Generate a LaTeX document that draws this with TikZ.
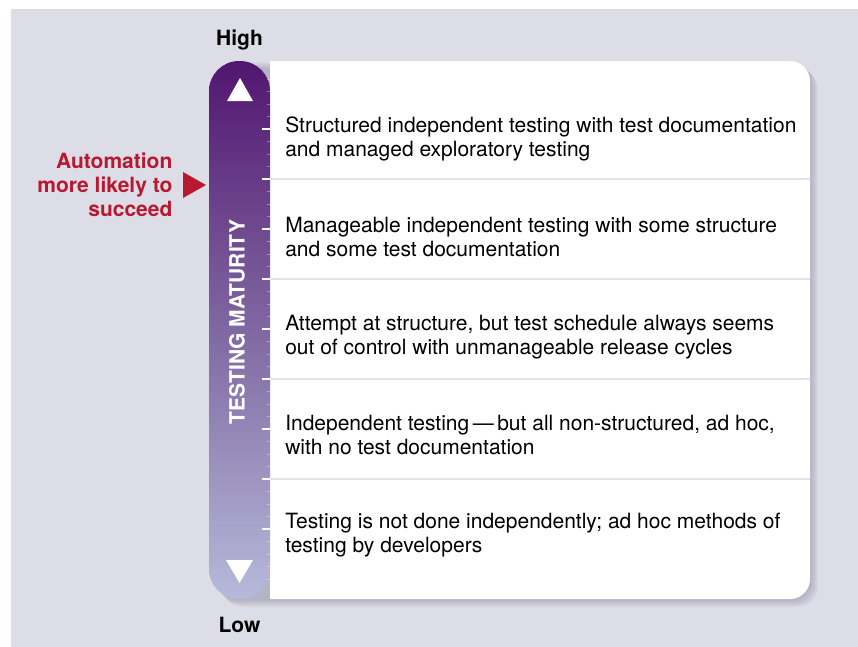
\documentclass[tikz,border=0pt]{standalone}
\usepackage{fontspec}
\setmainfont{TeX Gyre Heros}
\usepackage{xcolor}
\usetikzlibrary{positioning,calc}

\definecolor{panelbg}{RGB}{221,221,231}
\definecolor{shadowcol}{RGB}{120,120,150}
\definecolor{sepgrey}{RGB}{226,226,236}
\definecolor{bartop}{RGB}{82,22,112}
\definecolor{barmid}{RGB}{128,104,162}
\definecolor{barbot}{RGB}{182,186,218}
\definecolor{accent}{RGB}{184,24,48}

\begin{document}
\begin{tikzpicture}[x=0.75pt, y=-0.75pt, font=\fontsize{15.75}{18}\selectfont,
  level/.style={anchor=west, align=left, inner sep=0pt},
  boldtext/.style={inner sep=0pt, font=\fontsize{15.75}{18}\selectfont\bfseries},
  bar/.style={minimum width=45.75pt, minimum height=403.5pt, inner sep=0pt, rounded corners=22.5pt,
    top color=bartop, bottom color=barbot, middle color=barmid},
  tick/.style={white, line width=0.9pt},
  minortick/.style={white, opacity=0.35, line width=0.6pt},
  sep/.style={sepgrey, line width=1pt}]

\useasboundingbox (0,0) rectangle (858,647);
\fill[panelbg] (11,9) rectangle (858,647);

% soft shadow under the card
\foreach \s in {1,...,8}
  \fill[shadowcol, opacity=0.06, rounded corners=15pt, xshift=\s*0.75pt, yshift=-\s*0.75pt]
    (215,61) rectangle (810,599);

% white card, left edge hidden behind the bar
\begin{scope}
  \clip (270,0) rectangle (858,647);
  \fill[white, rounded corners=15pt] (200,61) rectangle (810,599);
\end{scope}

% maturity scale
\node[bar] (bar) at (239.5,330) {};
\node[boldtext, above=7.5pt of bar] (high) {High};
\node[boldtext, below=13.5pt of bar] (low) {Low};
\node[boldtext, text=white, rotate=90] (maturity) at (237,322) {TESTING MATURITY};

\fill[white] (227,101) -- (253,101) -- (240,78) -- cycle;
\fill[white] (226,560) -- (253,560) -- (239.5,583) -- cycle;

% ticks and row separators
\foreach \k in {0,...,40}
  \draw[minortick] (266.5,79+12.5*\k) -- (270,79+12.5*\k);
\foreach \y in {129,229,...,529}
  \draw[tick] (262,\y) -- (270,\y);
\foreach \y in {179,279,...,479} {
  \draw[sep] (270,\y) -- (810,\y);
  \draw[tick] (262,\y) -- (270,\y);
}

% levels, highest first
\node[level] (lvl5) at (285,139) {Structured independent testing with test documentation\\and managed exploratory testing};
\node[level] (lvl4) at (285,237) {Manageable independent testing with some structure\\and some test documentation};
\node[level] (lvl3) at (285,337) {Attempt at structure, but test schedule always seems\\out of control with unmanageable release cycles};
\node[level] (lvl2) at (285,435) {Independent testing\thinspace---\thinspace but all non-structured, ad hoc,\\with no test documentation};
\node[level] (lvl1) at (285,535) {Testing is not done independently; ad hoc methods of\\testing by developers};

% automation marker
\coordinate (mark) at (206,185);
\fill[accent] (mark) -- ++(-23,-13) -- ++(0,26) -- cycle;
\node[boldtext, text=accent, align=right, left=25pt of mark] (note) {Automation\\more likely to\\succeed};
\end{tikzpicture}
\end{document}
